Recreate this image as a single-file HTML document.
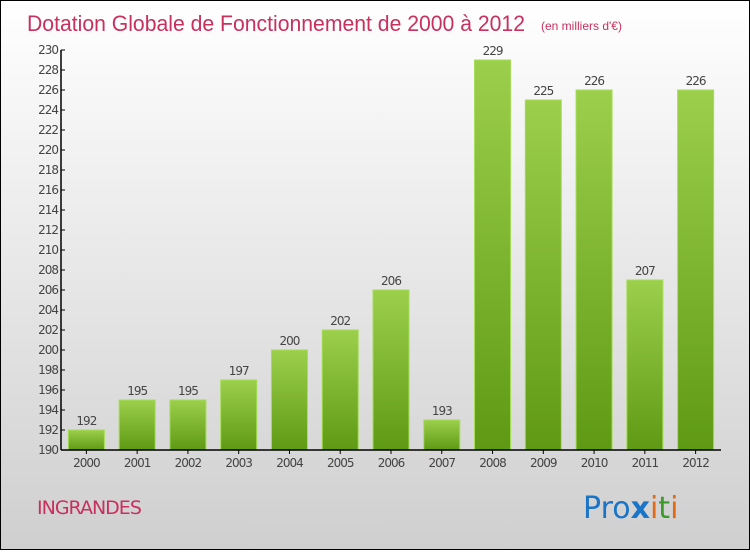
<!DOCTYPE html>
<html><head><meta charset="utf-8"><style>
html,body{margin:0;padding:0}
body{width:750px;height:550px;overflow:hidden;font-family:"DejaVu Sans","Liberation Sans",sans-serif}
#wrap{position:absolute;left:0;top:0;width:748px;height:548px;border:1px solid #000;background:linear-gradient(#ffffff,#cfcfcf)}
</style></head><body>
<div id="wrap">
<svg id="chart" width="748" height="548" xmlns="http://www.w3.org/2000/svg">
<defs><linearGradient id="bg" x1="0" y1="0" x2="0" y2="1"><stop offset="0" stop-color="#9ccf4c"/><stop offset="1" stop-color="#5f9a14"/></linearGradient></defs>
<text x="26" y="30" font-size="22" fill="#c8305e" font-family="Liberation Sans, sans-serif" textLength="498" lengthAdjust="spacingAndGlyphs">Dotation Globale de Fonctionnement de 2000 à 2012</text>
<text x="540" y="29" font-size="12" fill="#c8305e" font-family="Liberation Sans, sans-serif">(en milliers d'€)</text>
<g id="yaxis"></g>
<g id="bars"></g>
<g id="xaxis"></g>
<text x="36" y="513" font-size="19" fill="#c8305e" letter-spacing="-1">INGRANDES</text>
<g font-size="30" font-family="DejaVu Sans, sans-serif">
<text x="582" y="517"><tspan fill="#1a74c8">Pro</tspan><tspan fill="#1a74c8" font-weight="bold">x</tspan><tspan fill="#e36a12">i</tspan><tspan fill="#3a9a2a">t</tspan><tspan fill="#e36a12">i</tspan></text>
</g>
</svg></div>
<script>
const categories=["2000","2001","2002","2003","2004","2005","2006","2007","2008","2009","2010","2011","2012"];
const values=[192,195,195,197,200,202,206,193,229,225,226,207,226];
const yTicks=[190,192,194,196,198,200,202,204,206,208,210,212,214,216,218,220,222,224,226,228,230];
const NS="http://www.w3.org/2000/svg";
const x0=60,x1=720,yTop=49,yBot=449,vMin=190,vMax=230;
const band=(x1-x0)/categories.length;
const y=v=>yBot-(v-vMin)/(vMax-vMin)*(yBot-yTop);
const xc=i=>x0+band*(i+0.5);
function mk(t,a,p){const e=document.createElementNS(NS,t);for(const k in a)e.setAttribute(k,a[k]);p.appendChild(e);return e;}
const ya=document.getElementById('yaxis'),ba=document.getElementById('bars'),xa=document.getElementById('xaxis');
mk('line',{x1:x0,y1:yTop,x2:x0,y2:yBot,stroke:'#000','stroke-width':1.5},ya);
yTicks.forEach(v=>{
 mk('line',{x1:x0,y1:y(v),x2:x0+4,y2:y(v),stroke:'#000'},ya);
 const t=mk('text',{x:x0-3,y:y(v)+4,'text-anchor':'end','font-size':12,fill:'#444','letter-spacing':'-1'},ya);
 
 
 t.textContent=v;
});
mk('line',{x1:x0,y1:yBot,x2:x1,y2:yBot,stroke:'#000','stroke-width':1.5},xa);
categories.forEach((c,i)=>{
 const w=36,v=values[i];
 const r=mk('rect',{x:xc(i)-w/2,y:y(v),width:w,height:yBot-y(v),fill:'url(#bg)',stroke:'#a6dc58','stroke-width':1},ba);
 
 
 const l=mk('text',{x:xc(i),y:y(v)-5,'text-anchor':'middle','font-size':12,fill:'#444','letter-spacing':'-1'},ba);
 
 
 l.textContent=v;
 mk('line',{x1:xc(i),y1:yBot,x2:xc(i),y2:yBot+4,stroke:'#000'},xa);
 const t=mk('text',{x:xc(i),y:yBot+17,'text-anchor':'middle','font-size':12,fill:'#444','letter-spacing':'-1'},xa);
 
 
 t.textContent=c;
});
</script>
</body></html>
